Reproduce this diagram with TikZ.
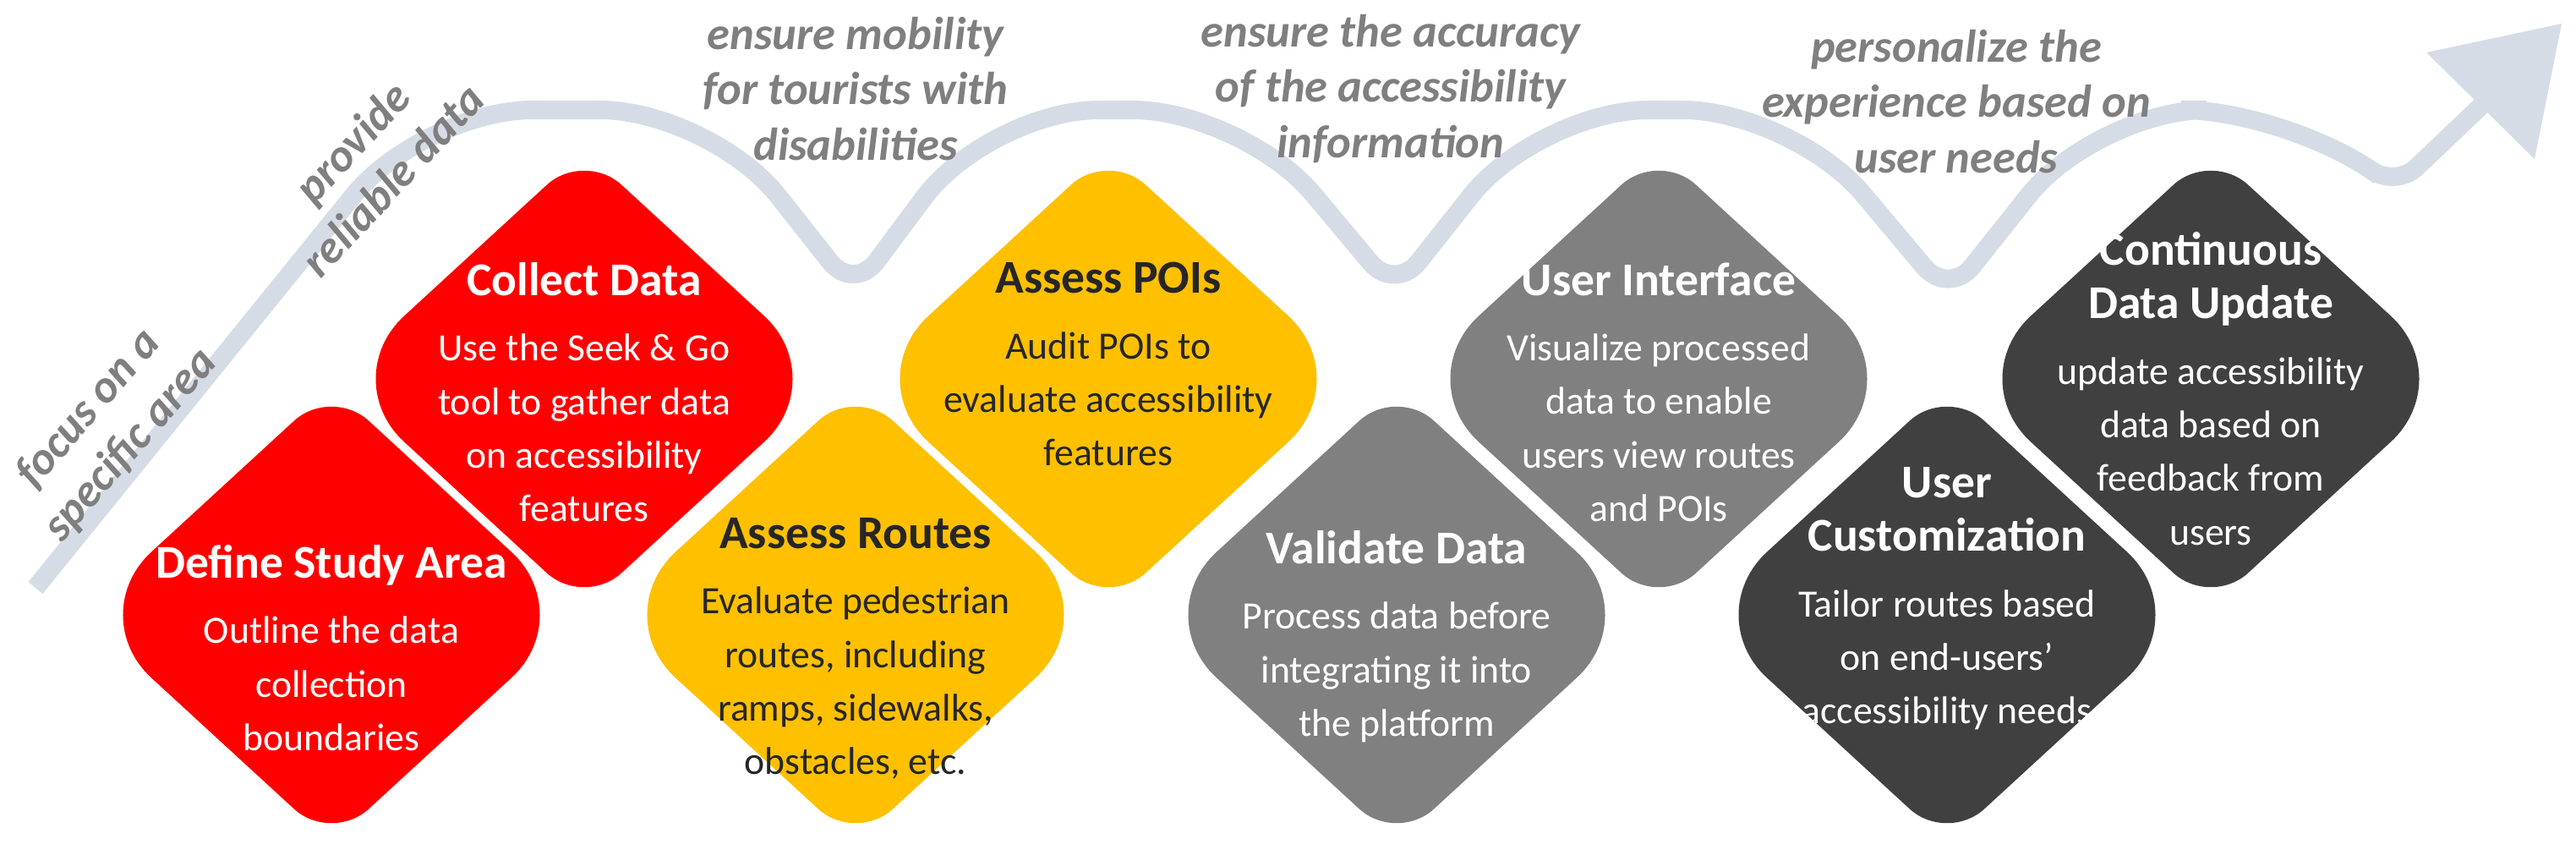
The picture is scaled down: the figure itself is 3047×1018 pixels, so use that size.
\documentclass[tikz,border=0pt]{standalone}
\usepackage{fontspec}
\setmainfont{Carlito}
\begin{document}
\definecolor{cred}{HTML}{FF0000}
\definecolor{cyel}{HTML}{FFC000}
\definecolor{cgray}{HTML}{808080}
\definecolor{cdark}{HTML}{404040}
\definecolor{carrow}{HTML}{D6DCE5}
\definecolor{ccap}{HTML}{7F7F7F}
\definecolor{ctxt}{HTML}{262626}
\newcommand\rdiam[3]{\fill[#3] (#1,#2) ++(147,-135) [rounded corners=1.1cm] -- ++(147,135) [rounded corners=0.6cm] -- ++(-294,270) [rounded corners=1.1cm] -- ++(-294,-270) [rounded corners=0.6cm] -- ++(294,-270) -- cycle;}
\newcommand\ttlf[1]{{\fontsize{15.8}{18}\selectfont\bfseries #1}}
\begin{tikzpicture}[x=0.01cm,y=-0.01cm,
  box/.style={align=center,anchor=north,font=\fontsize{13}{18}\selectfont},
  capt/.style={align=center,text=ccap,font=\fontsize{15.5}{18.6}\selectfont\bfseries\itshape}]
\useasboundingbox (0,0) rectangle (3047,1018);
% arrow
\draw[carrow,line width=0.22cm] (42,695) [rounded corners=1.3cm] -- (500,130) -- (840,130) [rounded corners=0.45cm] -- (1010,345) [rounded corners=1.3cm] -- (1170,130) -- (1470,130) [rounded corners=0.45cm] -- (1650,345) [rounded corners=1.3cm] -- (1820,130) -- (2120,130) [rounded corners=0.45cm] -- (2305,350) [rounded corners=1.3cm] -- (2480,130) -- (2710,130) [rounded corners=0.35cm] -- (2833,222) [rounded corners=0cm] -- (2935,125);
\coordinate (tip) at (3030,28);
\fill[carrow] (tip) -- (2870,62) -- (2998,188) -- cycle;
% diamonds
\rdiam{392}{727}{cred}
\rdiam{691}{448}{cred}
\rdiam{1012}{727}{cyel}
\rdiam{1311}{448}{cyel}
\rdiam{1652}{727}{cgray}
\rdiam{1962}{448}{cgray}
\rdiam{2303}{727}{cdark}
\rdiam{2615}{448}{cdark}
% texts
\node[box,text=white] (dsa) at (392,632) {\ttlf{Define Study Area}\\[4pt]Outline the data\\collection\\boundaries};
\node[box,text=white] (cd) at (691,298) {\ttlf{Collect Data}\\[4pt]Use the Seek \& Go\\tool to gather data\\on accessibility\\features};
\node[box,text=ctxt] (ar) at (1012,600) {\ttlf{Assess Routes}\\[4pt]Evaluate pedestrian\\routes, including\\ramps, sidewalks,\\obstacles, etc.};
\node[box,text=ctxt] (ap) at (1311,298) {\ttlf{Assess POIs}\\[4pt]Audit POIs to\\evaluate accessibility\\features};
\node[box,text=white] (vd) at (1652,615) {\ttlf{Validate Data}\\[4pt]Process data before\\integrating it into\\the platform};
\node[box,text=white] (ui) at (1962,298) {\ttlf{User Interface}\\[4pt]Visualize processed\\data to enable\\users view routes\\and POIs};
\node[box,text=white] (uc) at (2303,540) {\ttlf{User}\\\ttlf{Customization}\\[4pt]Tailor routes based\\on end-users’\\accessibility needs};
\node[box,text=white] (cdu) at (2615,262) {\ttlf{Continuous}\\\ttlf{Data Update}\\[4pt]update accessibility\\data based on\\feedback from\\users};
% captions
\node[capt] (c1) at (1012,105) {ensure mobility\\for tourists with\\disabilities};
\node[capt] (c2) at (1645,105) {ensure the accuracy\\of the accessibility\\information};
\node[capt] (c3) at (2314,120) {personalize the\\experience based on\\user needs};
\node[capt,rotate=49] (c4) at (130,505) {focus on a\\specific area};
\node[capt,rotate=47] (c5) at (440,190) {provide\\reliable data};
\end{tikzpicture}
\end{document}
